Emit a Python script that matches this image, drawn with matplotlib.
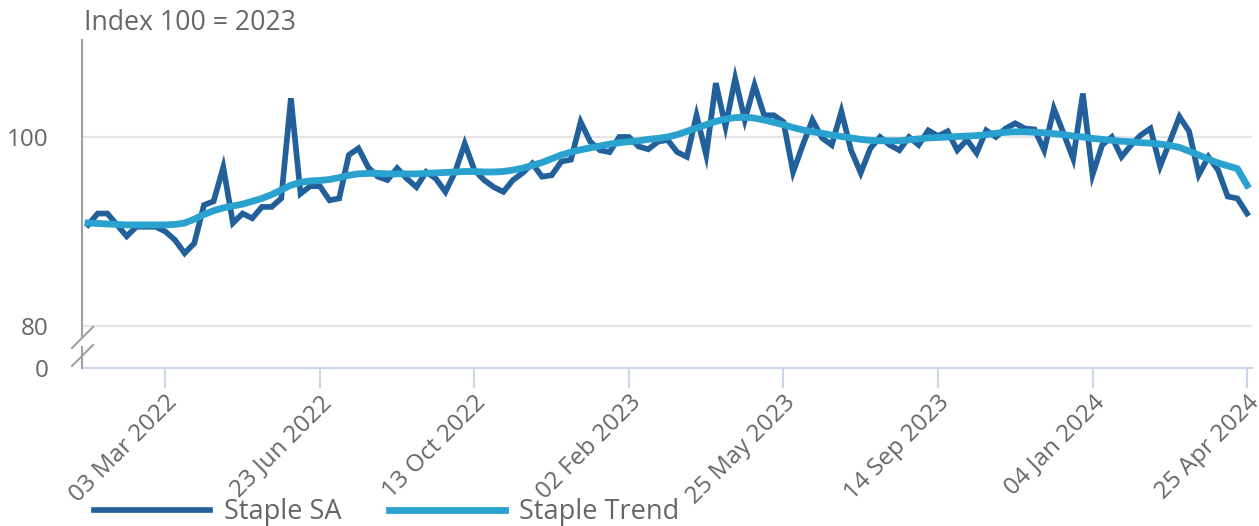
import matplotlib
matplotlib.use("Agg")
import matplotlib.pyplot as plt
import matplotlib.dates as mdates
import pandas as pd

plt.rcParams['font.family'] = ['Open Sans', 'DejaVu Sans']

# weekly series, first week 06 Jan 2022
start_date = '2022-01-06'

staple_sa = [
    90.7, 91.9, 91.9, 90.7, 89.5, 90.5, 90.5, 90.5, 90.0, 89.1,
    87.7, 88.75, 92.8, 93.2, 96.8, 90.9, 91.9, 91.4, 92.6, 92.6,
    93.5, 104.1, 94.0, 94.8, 94.8, 93.3, 93.5, 98.1, 98.8, 96.8,
    95.8, 95.45, 96.7, 95.6, 94.7, 96.3, 95.6, 94.2, 96.3, 99.3,
    96.5, 95.45, 94.7, 94.2, 95.45, 96.2, 97.2, 95.8, 95.95, 97.4,
    97.6, 101.6, 99.5, 98.6, 98.4, 100.0, 100.0, 99.0, 98.7, 99.5,
    99.7, 98.4, 97.9, 102.3, 98.1, 105.7, 101.1, 106.2, 101.8, 105.5,
    102.3, 102.3, 101.6, 96.3, 99.15, 101.8, 99.9, 99.15, 102.7, 98.6,
    96.2, 98.8, 100.0, 99.15, 98.6, 100.0, 99.15, 100.7, 100.1, 100.6,
    98.6, 99.7, 98.3, 100.7, 100.0, 100.9, 101.45, 100.9, 100.8, 98.6,
    103.0, 100.4, 97.7, 104.6, 96.0, 99.15, 100.0, 97.9, 99.15, 100.2,
    100.9, 96.9, 99.5, 102.15, 100.6, 96.0, 97.9, 96.5, 93.7, 93.5,
    91.9,
]

staple_trend = [
    90.9, 90.85, 90.8, 90.75, 90.7, 90.7, 90.7, 90.7, 90.7, 90.75,
    90.9, 91.3, 91.8, 92.2, 92.5, 92.7, 92.9, 93.2, 93.5, 93.9,
    94.4, 94.9, 95.2, 95.35, 95.4, 95.5, 95.7, 95.95, 96.1, 96.15,
    96.15, 96.1, 96.1, 96.1, 96.1, 96.15, 96.2, 96.25, 96.3, 96.35,
    96.35, 96.3, 96.3, 96.35, 96.5, 96.7, 97.0, 97.3, 97.7, 98.1,
    98.4, 98.65, 98.85, 99.05, 99.25, 99.4, 99.5, 99.6, 99.75, 99.85,
    100.0, 100.25, 100.6, 100.95, 101.3, 101.65, 101.9, 102.05, 102.1, 102.0,
    101.8, 101.55, 101.3, 101.0, 100.75, 100.55, 100.4, 100.2, 100.05, 99.9,
    99.75, 99.65, 99.6, 99.6, 99.6, 99.7, 99.8, 99.9, 99.95, 100.0,
    100.05, 100.1, 100.15, 100.25, 100.4, 100.5, 100.55, 100.55, 100.5, 100.45,
    100.35, 100.25, 100.1, 100.0, 99.85, 99.75, 99.65, 99.55, 99.5, 99.4,
    99.35, 99.25, 99.1, 98.9, 98.5, 98.1, 97.65, 97.25, 96.95, 96.65,
    94.9,
]

series_names = ['Staple SA', 'Staple Trend']
y_labels = ['0', '80', '100']

weeks = pd.date_range(start_date, periods=len(staple_sa), freq='7D')

W, H = 1259, 526
fig = plt.figure(figsize=(W / 100, H / 100), dpi=100)
ax = fig.add_axes([82 / W, 1 - 368 / H, (1252 - 82) / W, (368 - 40) / H])

def fx(px):
    return px / W

def fy(py):
    return 1 - py / H

text_col = '#666666'
axis_col = '#ccd6eb'
grid_col = '#e6e6e6'
sa_col = '#21609a'
trend_col = '#2aa2d0'

y_bottom = 100 - (368 - 137) / 9.45
y_top = 100 + (137 - 40) / 9.45

for g in [80, 100]:
    ax.axhline(g, color=grid_col, lw=1.6, zorder=1)

ax.plot(weeks, staple_sa, color=sa_col, lw=4.1, solid_joinstyle='miter',
        label=series_names[0], zorder=3)
ax.plot(weeks, staple_trend, color=trend_col, lw=4.9, solid_joinstyle='round',
        label=series_names[1], zorder=4)

ax.set_ylim(y_bottom, y_top)
ax.set_xlim(weeks[0] - pd.Timedelta(days=4.4), weeks[-1] + pd.Timedelta(days=3.6))

ax.set_yticks([y_bottom, 80, 100])
ax.set_yticklabels(y_labels)
ax.tick_params(axis='y', length=0, pad=24, labelsize=17.5, labelcolor=text_col)

ax.set_xticks(weeks[8::16])
ax.xaxis.set_major_formatter(mdates.DateFormatter('%d %b %Y'))
ax.tick_params(axis='x', direction='out', length=14.4, width=1.5, color=axis_col,
               labelsize=17.5, labelcolor=text_col, pad=2)
for lab in ax.get_xticklabels():
    lab.set_rotation(45)
    lab.set_ha('right')
    lab.set_rotation_mode('anchor')

for s in ['top', 'right', 'left']:
    ax.spines[s].set_visible(False)
ax.spines['bottom'].set_color(axis_col)
ax.spines['bottom'].set_linewidth(1.5)

# broken left axis
spine_col = '#a0a0a0'
fig.add_artist(plt.Line2D([fx(82), fx(82)], [fy(40), fy(337)], color=spine_col, lw=1.5))
fig.add_artist(plt.Line2D([fx(82), fx(82)], [fy(347), fy(368)], color=spine_col, lw=1.5))
fig.add_artist(plt.Line2D([fx(72), fx(93)], [fy(348), fy(327)], color=spine_col, lw=1.5))
fig.add_artist(plt.Line2D([fx(72), fx(93)], [fy(366), fy(345)], color=spine_col, lw=1.5))

fig.text(fx(84), fy(23), 'Index 100 = 2023', fontsize=19.2, color=text_col, va='center', ha='left')

fig.legend(loc='center left', bbox_to_anchor=(fx(94), fy(512)), ncol=2, frameon=False,
           fontsize=19.5, labelcolor=text_col, handlelength=4.3, handletextpad=0.5,
           columnspacing=1.75, borderpad=0, borderaxespad=0)

fig.savefig('out.png', dpi=100)
